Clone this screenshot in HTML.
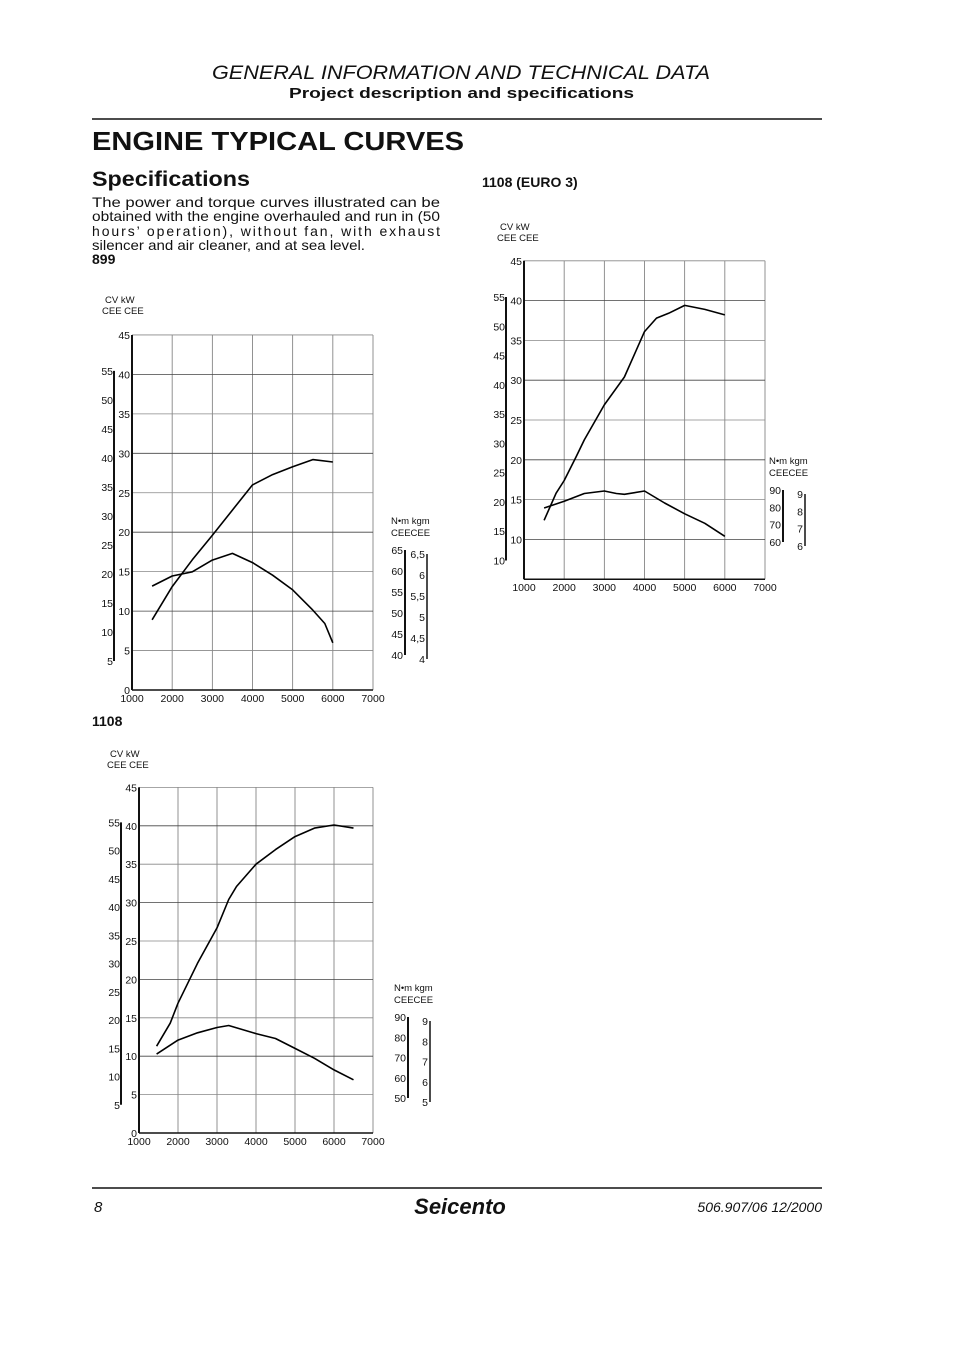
<!DOCTYPE html>
<html><head><meta charset="utf-8">
<style>
html,body{margin:0;padding:0;background:#fff;}
body{width:960px;height:1358px;overflow:hidden;position:relative;font-family:"Liberation Sans",sans-serif;color:#111;}
svg{position:absolute;left:0;top:0;}
</style></head>
<body>
<svg id="page" width="960" height="1358" viewBox="0 0 960 1358" font-family="Liberation Sans, sans-serif" fill="#111">
  <text x="212" y="79" font-size="19" font-style="italic" textLength="498" lengthAdjust="spacingAndGlyphs">GENERAL INFORMATION AND TECHNICAL DATA</text>
  <text x="289" y="98" font-size="15" font-weight="bold" textLength="345" lengthAdjust="spacingAndGlyphs">Project description and specifications</text>
  <line x1="92" y1="119" x2="822" y2="119" stroke="#111" stroke-width="1.5"/>
  <text x="92" y="150" font-size="26" font-weight="bold" textLength="372" lengthAdjust="spacingAndGlyphs">ENGINE TYPICAL CURVES</text>
  <text x="92" y="186" font-size="21" font-weight="bold" textLength="158" lengthAdjust="spacingAndGlyphs">Specifications</text>
  <g font-size="14">
    <text x="92" y="207" textLength="348" lengthAdjust="spacingAndGlyphs">The power and torque curves illustrated can be</text>
    <text x="92" y="221" textLength="348" lengthAdjust="spacingAndGlyphs">obtained with the engine overhauled and run in (50</text>
    <text x="92" y="236" textLength="348" lengthAdjust="spacing">hours’ operation), without fan, with exhaust</text>
    <text x="92" y="250" textLength="273" lengthAdjust="spacingAndGlyphs">silencer and air cleaner, and at sea level.</text>
  </g>
  <text x="92" y="264" font-size="14" font-weight="bold">899</text>
  <text x="92" y="726" font-size="14" font-weight="bold">1108</text>
  <text x="482" y="187" font-size="14" font-weight="bold">1108 (EURO 3)</text>
  <line x1="92" y1="1188" x2="822" y2="1188" stroke="#111" stroke-width="1.5"/>
  <text x="94" y="1212" font-size="15" font-style="italic">8</text>
  <text x="460" y="1214" text-anchor="middle" font-size="22" font-weight="bold" font-style="italic">Seicento</text>
  <text x="822" y="1212" text-anchor="end" font-size="14" font-style="italic">506.907/06  12/2000</text>
  <g id="charts"></g>
</svg>
<script>
// ---- data ----
const rpmTicks = [1000,2000,3000,4000,5000,6000,7000];
// 899
const rpm899P = [1500,2000,2500,3000,3500,4000,4500,5000,5500,6000];
const kw899 = [8.9,13.1,16.5,19.6,22.8,26,27.3,28.3,29.2,28.9];
const rpm899T = [1500,2000,2500,3000,3500,4000,4500,5000,5500,5800,6000];
const nm899 = [56.4,58.8,59.8,62.6,64.2,62,59,55.5,50.7,47.5,42.9];
// 1108 EURO 3
const rpmE3P = [1500,1800,2000,2300,2500,3000,3500,4000,4300,4600,5000,5500,6000];
const kwE3 = [12.4,15.8,17.4,20.4,22.5,26.9,30.4,36.1,37.8,38.4,39.4,38.9,38.2];
const rpmE3T = [1500,2000,2500,3000,3300,3500,4000,4500,5000,5500,6000];
const nmE3 = [79.6,83.5,88,89.4,88,87.5,89.4,82.5,76.3,70.8,63.3];
// 1108
const rpm1108P = [1450,1800,2000,2500,3000,3300,3500,4000,4500,5000,5500,6000,6500];
const kw1108 = [11.3,14.3,16.9,22.1,26.7,30.4,32.1,35,36.9,38.6,39.7,40.1,39.7];
const rpm1108T = [1450,2000,2500,3000,3300,4000,4500,5000,5500,6000,6500];
const nm1108 = [71.7,78.6,82.2,84.8,85.8,81.8,79.4,74.5,69.6,63.9,59];
// scale tick labels
const kwTicks899 = [0,5,10,15,20,25,30,35,40,45];
const cvTicks899 = [5,10,15,20,25,30,35,40,45,50,55];
const nmTicks899 = [40,45,50,55,60,65];
const kgmTicks899 = ["4","4,5","5","5,5","6","6,5"];
const kwTicksE3 = [10,15,20,25,30,35,40,45];
const cvTicksE3 = [10,15,20,25,30,35,40,45,50,55];
const nmTicksE3 = [60,70,80,90];
const kgmTicksE3 = ["6","7","8","9"];
const kwTicks1108 = [0,5,10,15,20,25,30,35,40,45];
const cvTicks1108 = [5,10,15,20,25,30,35,40,45,50,55];
const nmTicks1108 = [50,60,70,80,90];
const kgmTicks1108 = ["5","6","7","8","9"];

const NS="http://www.w3.org/2000/svg";
const root=document.getElementById('charts');
function mk(tag,attrs,parent){const e=document.createElementNS(NS,tag);for(const k in attrs)e.setAttribute(k,attrs[k]);(parent||root).appendChild(e);return e;}
function txt(x,y,s,size,anchor,parent){const t=mk('text',{x:x,y:y,'font-size':size,'text-anchor':anchor||'start'},parent);t.textContent=s;return t;}

function chart(cfg){
  const g=mk('g',{});
  
  
  const X=r=>cfg.x0+(r-1000)*(cfg.x1-cfg.x0)/6000;
  const Y=kw=>cfg.y0-kw*cfg.kpx;
  const T=nm=>cfg.tA-(nm-cfg.tN)*cfg.tpx;
  const yTop=Y(45), yBot=Y(cfg.kwMin);
  for(const r of rpmTicks){
    const l=mk('line',{x1:X(r),y1:yTop,x2:X(r),y2:yBot,stroke:'#777','stroke-width':0.8},g);
    
    
    const t=txt(X(r),yBot+12,String(r),10.5,'middle',g);
    
    
  }
  for(const k of cfg.kwTicks){
    if(k<cfg.kwMin) continue;
    const l=mk('line',{x1:X(1000),y1:Y(k),x2:X(7000),y2:Y(k),stroke:(k%10===0&&k>0)?'#444':'#888','stroke-width':0.8},g);
    
    
    const t=txt(X(1000)-2,Y(k)+4,String(k),10.5,'end',g);
    
    
  }
  const ax=mk('line',{x1:X(1000),y1:yTop,x2:X(1000),y2:yBot,stroke:'#111','stroke-width':2},g);
  
  
  const bx=mk('line',{x1:X(1000),y1:yBot,x2:X(7000),y2:yBot,stroke:'#111','stroke-width':1.5},g);
  
  
  const cvx=X(1000)-18;
  const cvTopY=Y(cfg.cvTicks[cfg.cvTicks.length-1]*0.7355), cvBotY=Y(cfg.cvTicks[0]*0.7355);
  const cb=mk('line',{x1:cvx,y1:cvTopY,x2:cvx,y2:cvBotY,stroke:'#111','stroke-width':2},g);
  
  
  for(const c of cfg.cvTicks){
    const t=txt(cvx-1,Y(c*0.7355)+4,String(c),10.5,'end',g);
    
    
  }
  const h1=txt(cfg.hx,cfg.hy,'CV   kW',9.5,'start',g);
  
  
  const h2=txt(cfg.hx-3,cfg.hy+11,'CEE CEE',9.5,'start',g);
  
  
  const nb=mk('line',{x1:cfg.nmx,y1:T(cfg.nmTicks[cfg.nmTicks.length-1]),x2:cfg.nmx,y2:T(cfg.nmTicks[0]),stroke:'#111','stroke-width':2},g);
  
  
  for(const n of cfg.nmTicks){
    const t=txt(cfg.nmx-2,T(n)+4,String(n),10.5,'end',g);
    
    
  }
  const kgx=cfg.nmx+22;
  const kb=mk('line',{x1:kgx,y1:T(cfg.nmTicks[cfg.nmTicks.length-1])+4,x2:kgx,y2:T(cfg.nmTicks[0])+4,stroke:'#111','stroke-width':1.5},g);
  
  
  cfg.kgmTicks.forEach((s,i)=>{
    const t=txt(kgx-2,T(cfg.nmTicks[i])+8,s,10.5,'end',g);
    
    
  });
  const th1=txt(cfg.nmx-14,T(cfg.nmTicks[cfg.nmTicks.length-1])-26,'N•m kgm',9.5,'start',g);
  
  
  const th2=txt(cfg.nmx-14,T(cfg.nmTicks[cfg.nmTicks.length-1])-14,'CEECEE',9.5,'start',g);
  
  
  const pp=cfg.rpmP.map((r,i)=>X(r).toFixed(1)+','+Y(cfg.kw[i]).toFixed(1)).join(' ');
  const pl=mk('polyline',{points:pp,fill:'none',stroke:'#000','stroke-width':1.6,'stroke-linejoin':'round'},g);
  
  
  const tp=cfg.rpmT.map((r,i)=>X(r).toFixed(1)+','+T(cfg.nm[i]).toFixed(1)).join(' ');
  const tl=mk('polyline',{points:tp,fill:'none',stroke:'#000','stroke-width':1.6,'stroke-linejoin':'round'},g);
  
  
}
chart({name:'chart-899',x0:132,x1:373,y0:690,kpx:7.89,kwMin:0,kwTicks:kwTicks899,cvTicks:cvTicks899,
  hx:105,hy:303,nmx:405,tA:655,tN:40,tpx:4.2,nmTicks:nmTicks899,kgmTicks:kgmTicks899,
  rpmP:rpm899P,kw:kw899,rpmT:rpm899T,nm:nm899});
chart({name:'chart-1108-euro3',x0:524,x1:765,y0:619,kpx:7.96,kwMin:5,kwTicks:kwTicksE3,cvTicks:cvTicksE3,
  hx:500,hy:230,nmx:783,tA:542,tN:60,tpx:1.733,nmTicks:nmTicksE3,kgmTicks:kgmTicksE3,
  rpmP:rpmE3P,kw:kwE3,rpmT:rpmE3T,nm:nmE3});
chart({name:'chart-1108',x0:139,x1:373,y0:1133,kpx:7.68,kwMin:0,kwTicks:kwTicks1108,cvTicks:cvTicks1108,
  hx:110,hy:757,nmx:408,tA:1098,tN:50,tpx:2.025,nmTicks:nmTicks1108,kgmTicks:kgmTicks1108,
  rpmP:rpm1108P,kw:kw1108,rpmT:rpm1108T,nm:nm1108});
</script>
</body></html>
